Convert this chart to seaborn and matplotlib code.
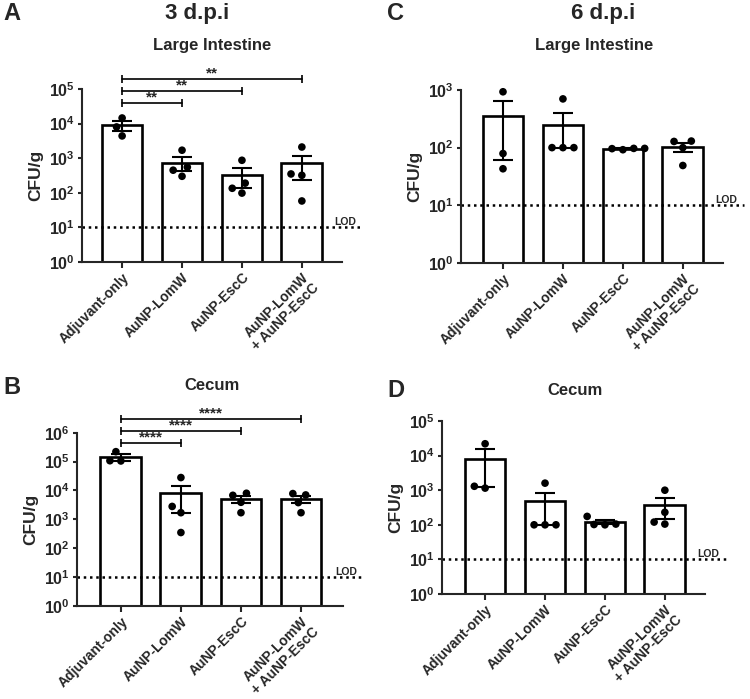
# Bacterial load (CFU/g) at 3 and 6 d.p.i, large intestine and cecum.
import numpy as np
import pandas as pd
import seaborn as sns
import matplotlib.pyplot as plt
import matplotlib.transforms as mtransforms
from matplotlib.ticker import NullLocator

groups = ["Adjuvant-only", "AuNP-LomW", "AuNP-EscC", "AuNP-LomW\n+ AuNP-EscC"]

# 3 d.p.i - large intestine
li3_adjuvant = [14500, 8000, 4400]
li3_lomw = [1700, 550, 450, 300]
li3_escc = [870, 190, 135, 98]
li3_combo = [2100, 350, 320, 58]

# 3 d.p.i - cecum
ce3_adjuvant = [220000, 107000, 105000]
ce3_lomw = [28000, 2800, 1700, 350]
ce3_escc = [8000, 6800, 3900, 1700]
ce3_combo = [7800, 7000, 3800, 1700]

# 6 d.p.i - large intestine
li6_adjuvant = [930, 79, 43]
li6_lomw = [700, 100, 100, 100]
li6_escc = [92, 96, 97, 97]
li6_combo = [130, 128, 100, 49]

# 6 d.p.i - cecum
ce6_adjuvant = [22000, 1300, 1150]
ce6_lomw = [1600, 100, 100, 100]
ce6_escc = [175, 105, 102, 100]
ce6_combo = [1000, 230, 120, 105]

lod = 10
stars_li3 = ["**", "**", "**"]
stars_ce3 = ["****", "****", "****"]

sns.set_style("ticks")
plt.rcParams["font.family"] = ["Liberation Sans", "DejaVu Sans"]
plt.rcParams["font.weight"] = "bold"
plt.rcParams["mathtext.fontset"] = "custom"
plt.rcParams["mathtext.bf"] = "Liberation Sans:bold"
plt.rcParams["mathtext.rm"] = "Liberation Sans:bold"
plt.rcParams["mathtext.default"] = "bf"


def panel(ax, values, top_exp, xlim, stars=None, brk_y=None):
    df = pd.DataFrame({
        "group": [g for g, v in zip(groups, values) for _ in v],
        "cfu": [x for v in values for x in v],
    })
    summ = df.groupby("group", sort=False)["cfu"].agg(["mean", "sem"]).reindex(groups).reset_index()

    # bars drawn on linear axis, then switched to log
    sns.barplot(data=summ, x="group", y="mean", order=groups, color="white",
                edgecolor="black", linewidth=1.9, width=0.68, errorbar=None,
                saturation=1, ax=ax)
    ax.set_yscale("log")
    ax.errorbar(np.arange(len(groups)), summ["mean"], yerr=summ["sem"], fmt="none",
                ecolor="black", elinewidth=1.5, capsize=7, capthick=1.5, zorder=3)
    sns.swarmplot(data=df, x="group", y="cfu", order=groups, color="black", size=5.5,
                  linewidth=2, edgecolor="none", ax=ax, zorder=4)
    for coll in ax.collections:
        coll.set_clip_on(False)

    ax.set_ylim(1, 10.0 ** top_exp)
    ax.set_xlim(*xlim)
    exps = np.arange(0, top_exp + 1)
    ax.set_yticks(10.0 ** exps)
    ax.set_yticklabels([r"$10^{%d}$" % e for e in exps], fontsize=11.5)
    ax.yaxis.set_minor_locator(NullLocator())
    ax.set_xticks(range(len(groups)))
    ax.set_xticklabels(groups, rotation=45, ha="right", rotation_mode="anchor",
                       fontsize=10, fontweight="bold", linespacing=1.05)
    ax.set_xlabel("")
    ax.set_ylabel("CFU/g", fontsize=12.5, fontweight="bold", labelpad=4)
    ax.tick_params(axis="y", length=3, width=1.5, pad=2)
    ax.tick_params(axis="x", length=4, width=1.5, pad=2)
    for s in ["left", "bottom"]:
        ax.spines[s].set_linewidth(1.5)
    sns.despine(ax=ax)

    # limit of detection
    ax.axhline(lod, xmin=0, xmax=1.08, color="black", lw=1.8, ls=(0, (1, 1.5)),
               clip_on=False, zorder=1)
    ax.text(0.97, lod, "LOD", transform=mtransforms.blended_transform_factory(ax.transAxes, ax.transData),
            ha="left", va="bottom", fontsize=7.5, fontweight="bold")

    if stars:
        trans = mtransforms.blended_transform_factory(ax.transData, ax.transAxes)
        for i, (s, y) in enumerate(zip(stars, brk_y)):
            ax.plot([0, i + 1], [y, y], transform=trans, color="black", lw=1.2,
                    marker="|", markersize=6, mew=1.2, clip_on=False)
            ax.annotate(s, xy=((i + 1) / 2, y), xycoords=trans, xytext=(0, 4),
                        textcoords="offset points", ha="center", va="center",
                        fontsize=11, fontweight="bold", annotation_clip=False)


fig = plt.figure(figsize=(7.5, 6.99), dpi=100)
ax_a = fig.add_axes([0.1093, 0.6252, 0.3467, 0.2475])
ax_b = fig.add_axes([0.1027, 0.1330, 0.3547, 0.2480])
ax_c = fig.add_axes([0.6147, 0.6238, 0.3493, 0.2475])
ax_d = fig.add_axes([0.5893, 0.1502, 0.3507, 0.2475])

panel(ax_a, [li3_adjuvant, li3_lomw, li3_escc, li3_combo], 5, (-0.67, 3.67),
      stars_li3, [0.919, 0.988, 1.058])
panel(ax_b, [ce3_adjuvant, ce3_lomw, ce3_escc, ce3_combo], 6, (-0.73, 3.7),
      stars_ce3, [0.943, 1.011, 1.080])
panel(ax_c, [li6_adjuvant, li6_lomw, li6_escc, li6_combo], 3, (-0.7, 3.67))
panel(ax_d, [ce6_adjuvant, ce6_lomw, ce6_escc, ce6_combo], 5, (-0.72, 3.67))

# headers
fig.text(0.263, 0.98, "3 d.p.i", ha="center", va="center", fontsize=16, fontweight="bold")
fig.text(0.804, 0.98, "6 d.p.i", ha="center", va="center", fontsize=16, fontweight="bold")
fig.text(0.2827, 0.9356, "Large Intestine", ha="center", va="center", fontsize=12, fontweight="bold")
fig.text(0.792, 0.9342, "Large Intestine", ha="center", va="center", fontsize=12, fontweight="bold")
fig.text(0.2827, 0.449, "Cecum", ha="center", va="center", fontsize=12, fontweight="bold")
fig.text(0.767, 0.441, "Cecum", ha="center", va="center", fontsize=12, fontweight="bold")

for letter, x, y in [("A", 0.004, 0.98), ("C", 0.516, 0.98), ("B", 0.004, 0.446), ("D", 0.516, 0.442)]:
    fig.text(x, y, letter, ha="left", va="center", fontsize=17, fontweight="bold")

fig.savefig("out.png", dpi=100)
